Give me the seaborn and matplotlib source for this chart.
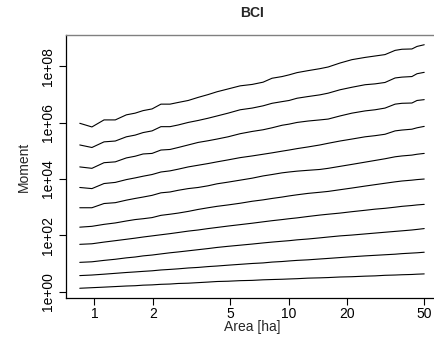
import numpy as np
import pandas as pd
import matplotlib
matplotlib.use("Agg")
import matplotlib.pyplot as plt
import matplotlib.ticker as mticker
import seaborn as sns

# Sampled plot areas in hectares
area_ha = [0.84, 0.97, 1.12, 1.28, 1.46, 1.62, 1.78, 1.98, 2.2, 2.45, 2.7, 3.04,
           3.42, 3.85, 4.28, 4.88, 5.63, 6.49, 7.39, 8.22, 9.26, 10.06, 11.06, 12.6,
           14.5, 16.0, 18.4, 21.2, 24.8, 27.9, 31.4, 35.4, 38.4, 43.2, 45.9, 50.0]

# log10 of the moment for each order q = 1 .. 10
log_moment_q1 = [0.12, 0.14, 0.16, 0.18, 0.20, 0.21, 0.23, 0.24, 0.26, 0.27, 0.29, 0.30,
                 0.32, 0.34, 0.36, 0.37, 0.39, 0.40, 0.42, 0.43, 0.44, 0.45, 0.46, 0.48,
                 0.49, 0.50, 0.52, 0.53, 0.55, 0.56, 0.58, 0.59, 0.60, 0.61, 0.62, 0.63]
log_moment_q2 = [0.57, 0.59, 0.62, 0.65, 0.68, 0.70, 0.72, 0.74, 0.77, 0.79, 0.81, 0.84,
                 0.86, 0.89, 0.91, 0.94, 0.97, 1.00, 1.02, 1.05, 1.07, 1.09, 1.11, 1.13,
                 1.16, 1.18, 1.21, 1.24, 1.27, 1.29, 1.31, 1.33, 1.35, 1.37, 1.38, 1.40]
log_moment_q3 = [1.04, 1.06, 1.11, 1.15, 1.20, 1.23, 1.27, 1.30, 1.34, 1.38, 1.41, 1.45,
                 1.49, 1.53, 1.57, 1.61, 1.65, 1.69, 1.73, 1.76, 1.79, 1.81, 1.84, 1.87,
                 1.91, 1.94, 1.98, 2.01, 2.05, 2.08, 2.11, 2.14, 2.16, 2.19, 2.21, 2.24]
log_moment_q4 = [1.68, 1.70, 1.76, 1.81, 1.86, 1.90, 1.94, 1.98, 2.02, 2.06, 2.10, 2.15,
                 2.19, 2.24, 2.28, 2.33, 2.38, 2.43, 2.48, 2.52, 2.56, 2.59, 2.62, 2.67,
                 2.72, 2.75, 2.79, 2.84, 2.89, 2.93, 2.96, 3.00, 3.03, 3.06, 3.08, 3.10]
log_moment_q5 = [2.29, 2.32, 2.39, 2.44, 2.51, 2.56, 2.59, 2.63, 2.71, 2.75, 2.79, 2.85,
                 2.92, 2.98, 3.03, 3.08, 3.14, 3.21, 3.26, 3.31, 3.36, 3.40, 3.44, 3.49,
                 3.53, 3.56, 3.62, 3.68, 3.75, 3.80, 3.85, 3.90, 3.93, 3.96, 3.98, 4.00]
log_moment_q6 = [2.98, 2.98, 3.13, 3.16, 3.25, 3.31, 3.36, 3.42, 3.51, 3.54, 3.60, 3.66,
                 3.70, 3.76, 3.83, 3.89, 3.96, 4.03, 4.11, 4.16, 4.22, 4.25, 4.28, 4.31,
                 4.34, 4.38, 4.45, 4.52, 4.60, 4.66, 4.72, 4.79, 4.82, 4.85, 4.88, 4.91]
log_moment_q7 = [3.70, 3.66, 3.84, 3.88, 3.98, 4.04, 4.10, 4.16, 4.25, 4.29, 4.35, 4.43,
                 4.49, 4.55, 4.61, 4.68, 4.76, 4.82, 4.88, 4.93, 4.99, 5.03, 5.08, 5.14,
                 5.21, 5.27, 5.35, 5.42, 5.50, 5.54, 5.59, 5.71, 5.74, 5.77, 5.82, 5.87]
log_moment_q8 = [4.43, 4.38, 4.58, 4.61, 4.75, 4.81, 4.89, 4.91, 5.03, 5.05, 5.12, 5.21,
                 5.30, 5.36, 5.42, 5.50, 5.61, 5.69, 5.75, 5.82, 5.91, 5.95, 6.01, 6.06,
                 6.10, 6.13, 6.24, 6.34, 6.42, 6.46, 6.52, 6.66, 6.69, 6.70, 6.79, 6.82]
log_moment_q9 = [5.21, 5.12, 5.32, 5.35, 5.50, 5.56, 5.65, 5.71, 5.86, 5.86, 5.92, 6.01,
                 6.08, 6.16, 6.24, 6.34, 6.46, 6.52, 6.60, 6.69, 6.75, 6.79, 6.87, 6.93,
                 6.99, 7.05, 7.17, 7.26, 7.35, 7.38, 7.43, 7.59, 7.62, 7.64, 7.74, 7.79]
log_moment_q10 = [5.98, 5.85, 6.10, 6.10, 6.28, 6.34, 6.43, 6.49, 6.66, 6.66, 6.72, 6.79,
                  6.90, 7.00, 7.10, 7.20, 7.31, 7.36, 7.44, 7.58, 7.64, 7.70, 7.78, 7.85,
                  7.92, 7.98, 8.12, 8.24, 8.32, 8.37, 8.42, 8.57, 8.61, 8.62, 8.71, 8.77]

orders = list(range(1, 11))
log_moments = [log_moment_q1, log_moment_q2, log_moment_q3, log_moment_q4, log_moment_q5,
               log_moment_q6, log_moment_q7, log_moment_q8, log_moment_q9, log_moment_q10]

x_ticks = [1, 2, 5, 10, 20, 50]
y_ticks = [1e0, 1e2, 1e4, 1e6, 1e8]
y_tick_labels = ["1e+00", "1e+02", "1e+04", "1e+06", "1e+08"]

frames = []
for q, lm in zip(orders, log_moments):
    frames.append(pd.DataFrame({"area": area_ha,
                                "moment": np.power(10.0, lm),
                                "q": q}))
df = pd.concat(frames, ignore_index=True)

sns.set_theme(style="ticks")
plt.rcParams["font.family"] = ["Liberation Sans", "DejaVu Sans"]

fig = plt.figure(figsize=(4.35, 3.40), dpi=100)
ax = fig.add_axes([66 / 435, 42 / 340, 372 / 435, 263 / 340])

sns.lineplot(data=df, x="area", y="moment", hue="q", units="q", estimator=None,
             palette=["black"] * len(orders), legend=False, linewidth=0.8, ax=ax)

ax.set_xscale("log")
ax.set_yscale("log")
lx0, lx1 = np.log10(min(area_ha)), np.log10(max(area_ha))
pad_x = 0.04 * (lx1 - lx0)
ax.set_xlim(10 ** (lx0 - pad_x), 10 ** (lx1 + pad_x))
ly_all = [v for lm in log_moments for v in lm]
ly0, ly1 = min(ly_all), max(ly_all)
pad_y = 0.04 * (ly1 - ly0)
ax.set_ylim(10 ** (ly0 - pad_y), 10 ** (ly1 + pad_y))

ax.xaxis.set_major_locator(mticker.FixedLocator(x_ticks))
ax.xaxis.set_major_formatter(mticker.FixedFormatter([str(t) for t in x_ticks]))
ax.xaxis.set_minor_locator(mticker.NullLocator())
ax.yaxis.set_major_locator(mticker.FixedLocator(y_ticks))
ax.yaxis.set_major_formatter(mticker.FixedFormatter(y_tick_labels))
ax.yaxis.set_minor_locator(mticker.NullLocator())

ax.tick_params(axis="both", direction="out", length=5, width=0.8, color="black",
               labelsize=10, labelcolor="black")
ax.tick_params(axis="x", pad=1.5)
ax.tick_params(axis="y", pad=3)
for lab in ax.get_yticklabels():
    lab.set_rotation(90)
    lab.set_va("center")

for side in ["left", "bottom"]:
    ax.spines[side].set_color("black")
    ax.spines[side].set_linewidth(0.9)
ax.spines["top"].set_color("#808080")
ax.spines["top"].set_linewidth(1.0)
ax.spines["right"].set_visible(False)
ax.grid(False)

ax.set_xlabel("Area [ha]", fontsize=10, labelpad=-1)
ax.set_ylabel("Moment", fontsize=10, labelpad=7)
ax.set_title("BCI", fontsize=10, fontweight="bold", pad=13)

fig.savefig("out.png", dpi=100)
